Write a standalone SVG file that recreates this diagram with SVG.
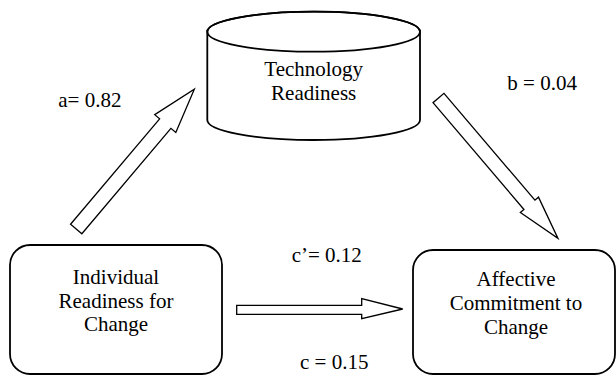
<svg xmlns="http://www.w3.org/2000/svg" width="616" height="377" viewBox="0 0 616 377">
<style>
.box{fill:#fff;stroke:#000;stroke-width:1.8}
.arr{fill:#fff;stroke:#000;stroke-width:1.3;stroke-linejoin:miter}
text{font-family:'Liberation Serif','DejaVu Serif',serif;font-size:21px;fill:#000}
.c{text-anchor:middle}
</style>
<rect width="616" height="377" fill="#fff"/>
<g id="connectors">
<path class="arr" transform="translate(76.2,229) rotate(-49.8)" d="M0,-7.4 L138,-7.4 L138,-13.8 L183,0 L138,13.8 L138,7.4 L0,7.4 Z"/>
<path class="arr" transform="translate(438.5,98) rotate(49.6)" d="M0,-7.2 L140.3,-7.2 L140.3,-11.9 L184.3,0 L140.3,11.9 L140.3,7.2 L0,7.2 Z"/>
<path class="arr" d="M236.7,305.3 L361.7,305.3 L361.7,298.7 L402.7,309 L361.7,318.7 L361.7,314.3 L236.7,314.3 Z"/>
</g>
<g id="labels">
<text x="58.3" y="106.7">a= 0.82</text>
<text x="507.3" y="90">b = 0.04</text>
<text x="291.7" y="262">c’= 0.12</text>
<text x="300" y="368.7">c = 0.15</text>
</g>
<g id="technology-readiness">
<path class="box" d="M207.3,31.7 L207.3,120 A106.35,20 0 0 0 420,120 L420,31.7 A106.35,20 0 0 0 207.3,31.7 Z"/>
<ellipse cx="313.65" cy="31.7" rx="106.35" ry="20" fill="none" stroke="#000" stroke-width="1.8"/>
<text class="c" x="313.7" y="76">Technology</text>
<text class="c" x="313.7" y="100">Readiness</text>
</g>
<g id="individual-readiness">
<rect class="box" x="10" y="245" width="212" height="129" rx="20" ry="20"/>
<text class="c" x="116" y="284">Individual</text>
<text class="c" x="116" y="307.5">Readiness for</text>
<text class="c" x="116" y="331">Change</text>
</g>
<g id="affective-commitment">
<rect class="box" x="413" y="250" width="202" height="124" rx="20" ry="20"/>
<text class="c" x="516" y="285.5">Affective</text>
<text class="c" x="516" y="309.5">Commitment to</text>
<text class="c" x="516" y="333.5">Change</text>
</g>
</svg>
